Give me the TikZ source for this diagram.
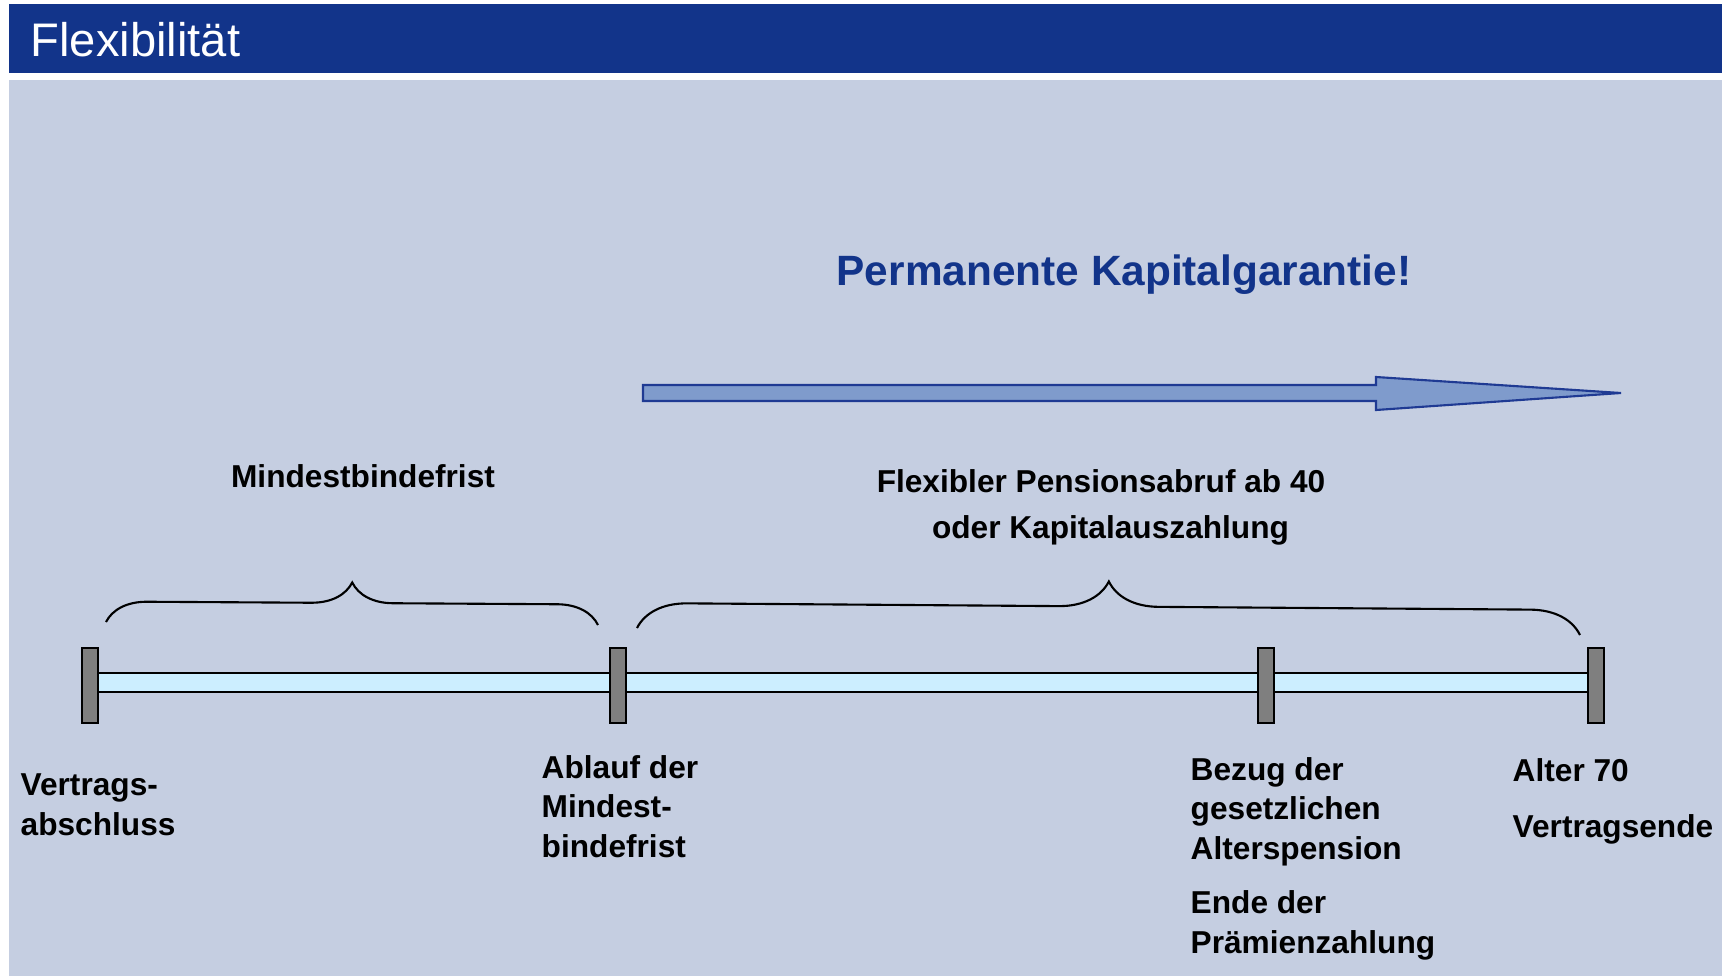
\documentclass[tikz,border=0pt]{standalone}
\usepackage{fontspec}
\setmainfont{Liberation Sans}
\usetikzlibrary{decorations.pathreplacing}

\definecolor{headblue}{HTML}{12348A}
\definecolor{panel}{HTML}{C5CEE1}
\definecolor{barfill}{HTML}{CCEEFF}
\definecolor{tickgray}{HTML}{7F7F7F}
\definecolor{arrowfill}{HTML}{7F9BCC}
\definecolor{arrowline}{HTML}{1F3A93}

\begin{document}
\begin{tikzpicture}[x=0.01cm, y=-0.01cm,
  lbl/.style={anchor=base west, inner sep=0pt, align=left,
    font=\fontsize{9pt}{11.1pt}\selectfont\bfseries},
  tickmark/.style={draw=black, line width=0.6pt, fill=tickgray,
    minimum width=0.16cm, minimum height=0.75cm, inner sep=0pt},
  brc/.style={decorate, line width=0.6pt}]

% Define canvas
\useasboundingbox (0,0) rectangle (1722,976);
\fill[white] (0,0) rectangle (1722,976);

% Header and panel
\fill[headblue] (9,4) rectangle (1722,73);
\fill[panel] (9,80) rectangle (1722,976);
\node[anchor=base west, inner sep=0pt, text=white,
  font=\fontsize{13.4pt}{16pt}\selectfont] (title) at (30,57) {Flexibilität};

% Guarantee text and arrow
\node[anchor=base, inner sep=0pt, text=headblue,
  font=\fontsize{12.05pt}{14pt}\selectfont\bfseries] (garantie) at (1124,285) {Permanente Kapitalgarantie!};
\draw[fill=arrowfill, draw=arrowline, line width=0.6pt]
  (643,385) -- (1376,385) -- (1376,377) -- (1621,393)
  -- (1376,410) -- (1376,401) -- (643,401) -- cycle;

% Time bar
\draw[fill=barfill, line width=0.5pt] (90,673) rectangle (1596,692);

% Tick marks
\node[tickmark] (t1) at (90,685.5) {};
\node[tickmark] (t2) at (617.6,685.5) {};
\node[tickmark] (t3) at (1266,685.5) {};
\node[tickmark] (t4) at (1596,685.5) {};

% Brace end points
\coordinate (b1l) at (106,622);
\coordinate (b1r) at (598,625);
\coordinate (b2l) at (637,628);
\coordinate (b2r) at (1580,635);

% Draw braces
\draw[brc, decoration={brace, amplitude=0.41cm}] (b1l) -- (b1r);
\draw[brc, decoration={brace, amplitude=0.5cm}] (b2l) -- (b2r);

% Brace labels (base = last line)
\node[lbl, anchor=base] (mbf) at (363,487) {Mindestbindefrist};
\node[lbl, anchor=base, align=center,
  font=\fontsize{9pt}{13pt}\selectfont\bfseries] (flex) at (1101,538)
  {Flexibler Pensionsabruf ab 40\\\hspace*{0.6em}oder Kapitalauszahlung};

% Tick labels
\node[lbl] (vab) at (20,835) {Vertrags-\\abschluss};
\node[lbl] (ablauf) at (541,857) {Ablauf der\\Mindest-\\bindefrist};
\node[lbl] (bezug) at (1190,859) {Bezug der\\gesetzlichen\\Alterspension};
\node[lbl] (ende) at (1190,953) {Ende der\\Prämienzahlung};
\node[lbl] (alter) at (1512,781) {Alter 70};
\node[lbl] (vende) at (1512,837) {Vertragsende};

\end{tikzpicture}
\end{document}
